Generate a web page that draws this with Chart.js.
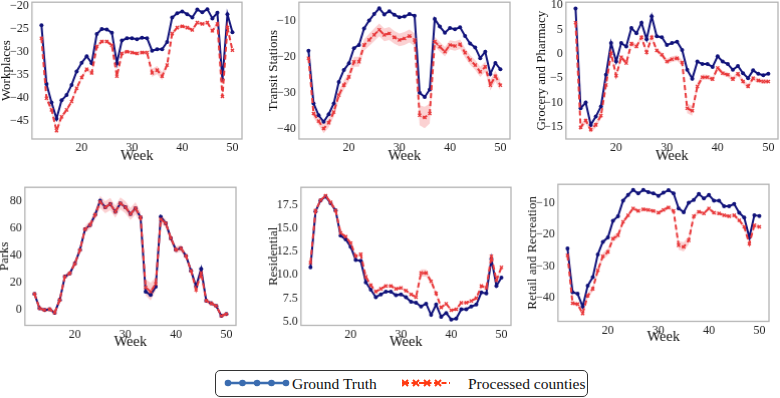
<!DOCTYPE html>
<html>
<head>
<meta charset="utf-8">
<script src="https://cdn.jsdelivr.net/npm/chart.js@4.4.0/dist/chart.umd.min.js"></script>
<style>
html, body { margin:0; padding:0; background:#fff; width:780px; height:398px; overflow:hidden; position:relative; font-family:"Liberation Serif", "Times New Roman", serif; }
canvas.panel { position:absolute; }
#legend { position:absolute; left:215px; top:370px; width:373px; height:27px; border:1.2px solid #333; border-radius:5px; box-sizing:border-box; }
#legend svg { position:absolute; top:0; }
#legend span { position:absolute; top:4px; font-family:"Liberation Serif", "Times New Roman", serif; font-size:15.5px; color:#111; white-space:nowrap; line-height:17px; }
</style>
</head>
<body>
<canvas class="panel" id="p1"></canvas>
<canvas class="panel" id="p2"></canvas>
<canvas class="panel" id="p3"></canvas>
<canvas class="panel" id="p4"></canvas>
<canvas class="panel" id="p5"></canvas>
<canvas class="panel" id="p6"></canvas>
<div id="legend">
  <svg width="66" height="24" style="left:8px">
    <line x1="4" y1="12" x2="62" y2="12" stroke="#3a6cb0" stroke-width="2.5"/>
    <circle cx="4" cy="12" r="3.3" fill="#3a6cb0"/><circle cx="18.5" cy="12" r="3.3" fill="#3a6cb0"/>
    <circle cx="33" cy="12" r="3.3" fill="#3a6cb0"/><circle cx="47.5" cy="12" r="3.3" fill="#3a6cb0"/>
    <circle cx="62" cy="12" r="3.3" fill="#3a6cb0"/>
  </svg>
  <span style="left:76px">Ground Truth</span>
  <svg width="50" height="24" style="left:186px">
    <line x1="2" y1="12" x2="48" y2="12" stroke="#ff3a12" stroke-width="2" stroke-dasharray="5,2.5"/>
    <g stroke="#ff3a12" stroke-width="2">
      <path d="M0 9 L6 15 M6 9 L0 15 M0 12 L6 12"/><path d="M11 9 L17 15 M17 9 L11 15"/>
      <path d="M22 9 L28 15 M28 9 L22 15 M22 12 L28 12"/><path d="M33 9 L39 15 M39 9 L33 15"/>
    </g>
  </svg>
  <span style="left:252px">Processed counties</span>
</div>
<script>
var weeks = [12,13,14,15,16,17,18,19,20,21,22,23,24,25,26,27,28,29,30,31,32,33,34,35,36,37,38,39,40,41,42,43,44,45,46,47,48,49,50];
var xTicks = [20,30,40,50];

// Workplaces
var workGT = [-24.3,-37,-41,-44.5,-40.5,-39.4,-37.2,-34.3,-32.4,-31,-32.5,-26.2,-25.1,-25.2,-25.9,-32.5,-27.6,-27.1,-27.1,-27.3,-27,-27.1,-29.8,-29.5,-29.5,-27.9,-22.6,-21.7,-21.3,-21.9,-22.6,-20.9,-21.5,-20.8,-22.8,-21.6,-36.1,-21.9,-25.8];
var workPR = [-27.1,-40.1,-42.6,-47.1,-44.1,-42.6,-40.8,-37.9,-35.6,-33.8,-34.6,-28.9,-27.8,-27.8,-28.6,-35.3,-30.4,-30,-30.2,-30.4,-30.2,-30.2,-34.6,-34,-35.3,-32.9,-26.1,-24.8,-24.5,-24.8,-25.3,-23.7,-24,-23.7,-25.5,-24,-39.7,-24.8,-29.7];
var workBand = [0.5,0.5,0.5,0.7,0.5,0.4,0.4,0.4,0.4,0.4,0.4,0.4,0.4,0.4,0.4,0.5,0.4,0.4,0.4,0.4,0.4,0.4,0.9,0.9,0.9,0.5,0.4,0.4,0.4,0.4,0.4,0.4,0.4,0.4,0.4,0.4,0.6,0.4,0.5];
var workTicks = [-45,-40,-35,-30,-25,-20];

// Transit Stations
var transGT = [-18.2,-32.9,-36.2,-38,-35.9,-32.9,-26.9,-23.6,-21.7,-17.5,-16.6,-12,-9.8,-8,-6.4,-8.1,-7.2,-8.2,-8.9,-8.7,-8,-8.5,-29.9,-31.1,-29,-9.4,-11.5,-13.2,-11.9,-12.2,-11.7,-14.1,-16.2,-17.3,-20.3,-18.5,-24.7,-21.6,-23.4];
var transPR = [-20.3,-35.7,-37.8,-39.9,-38.3,-35.3,-30.6,-27.8,-25.5,-21.3,-21.3,-16.6,-15.2,-13.8,-12.4,-13.8,-13.4,-14.5,-15.2,-14.8,-14.1,-15.2,-36.2,-36.8,-35.7,-15.7,-17.1,-18.5,-16.6,-16.9,-16.4,-18.8,-20.8,-22.2,-24.1,-22.7,-27.8,-25.3,-27.8];
var transBand = [1.2,1.2,1.2,1.3,1.3,1.3,1.3,1.3,1.3,1.4,1.4,1.6,1.7,1.8,1.8,1.8,1.8,1.8,1.8,1.8,1.8,1.8,2.8,3,2.8,1.3,1.3,1.3,1.3,1.3,1.3,1.3,1.3,1.4,1.4,1.4,1.5,1.5,1.5];
var transTicks = [-40,-30,-20,-10];

// Grocery and Pharmacy
var grocGT = [9.3,-11.2,-10,-14.6,-12.9,-10.8,-4.3,2.2,-1.6,2.2,1.5,5.3,4.2,6.4,3,7.7,3.6,3.4,1.8,2.2,2.5,0.8,-3.3,-5.1,-1.6,-2.1,-2.1,-2.7,-0.5,-1.6,-2.1,-3.3,-2.5,-4,-5,-3.4,-4.1,-4.4,-4.1];
var grocPR = [6.4,-15.1,-13.7,-15.6,-14.6,-12.7,-6.4,0.1,-4.5,-0.7,-1.9,2.1,1.5,3.4,0.3,3.4,0.7,-0.2,-1.6,-1.1,-0.9,-1.8,-11.2,-11.7,-6.7,-4.8,-4.8,-5.2,-2.9,-4,-4.3,-5.2,-4.1,-5.7,-6.7,-5,-5.5,-5.7,-5.7];
var grocBand = [0.6,0.6,0.6,0.6,0.6,0.6,0.6,0.5,0.5,0.5,0.5,0.5,0.5,0.5,0.5,0.5,0.5,0.5,0.6,0.6,0.6,0.6,1,1,0.8,0.6,0.5,0.5,0.5,0.5,0.5,0.5,0.5,0.5,0.5,0.5,0.5,0.5,0.5];
var grocTicks = [-15,-10,-5,0,5,10];

// Parks
var parksGT = [11.4,0.7,-0.5,0,-2.5,7,24.2,26.7,34,44,59.3,62.5,70,80.5,75.6,78,72.3,78.5,75.6,70.6,74.8,68.1,13.1,10.6,16.8,68.6,63.7,52.6,44,45.2,39.5,28.6,17,30,6.4,4.4,2.5,-4.9,-3.5];
var parksPR = [11.4,0.7,-0.5,0,-2.5,7,24.2,26.7,34,44,59.3,62.5,70,79.5,75.6,78,72.3,78.5,75.6,70.6,74.8,68.1,16.3,13.1,18.8,66.7,63.7,52.6,44,45.2,39.5,28.6,14.5,27,6.4,4.4,2.5,-4.9,-3.5];
var parksBand = [1.5,1.5,1.5,1.5,1.5,1.5,1.8,1.8,2,2,2.5,3,3.5,4.5,4.5,4.5,4.5,4.5,4.5,4.5,4.5,4,6,6.5,5,3,3,2.5,2.5,2.5,2,2,2,2,1.5,1.5,1.5,1.5,1.5];
var parksTicks = [0,20,40,60,80];

// Residential
var resGT = [10.8,16.8,18,18.4,17.7,16.9,14.2,13.8,13,11.6,11.5,9.2,8.4,7.6,7.9,8.2,8.2,7.8,7.9,7.6,7.1,7,6.6,6.9,5.7,6.8,5.5,5.9,5.2,5.3,6.3,6.3,6.6,6.8,8.1,8,11.7,8.8,9.7];
var resPR = [11.3,16.9,18,18.5,17.8,16.9,14.5,14.1,13.4,12,12.2,9.8,8.9,8.2,8.5,8.8,8.8,8.5,8.6,8.3,7.9,7.6,10.2,10.2,9.3,8,6.5,6.9,6.2,6.3,7,7,7.2,7.5,8.8,8.6,12,9.4,10.8];
var resBand = [0.15,0.15,0.15,0.15,0.15,0.15,0.15,0.15,0.15,0.15,0.15,0.15,0.15,0.15,0.15,0.15,0.15,0.15,0.15,0.15,0.15,0.15,0.4,0.4,0.3,0.15,0.15,0.15,0.15,0.15,0.15,0.15,0.15,0.15,0.15,0.15,0.2,0.15,0.15];
var resTicks = [5,7.5,10,12.5,15,17.5];

// Retail and Recreation
var retGT = [-24.4,-38.4,-38.9,-43,-36.3,-33.6,-26.3,-22.3,-20.9,-15.6,-14.1,-9.1,-7.3,-5.7,-6.8,-5.7,-6.4,-6.8,-7.6,-6.6,-5.8,-6.8,-11.6,-12.8,-9.8,-8.9,-7,-8.4,-7.3,-9.1,-9.1,-10.9,-10.9,-10.2,-13,-14.5,-20.9,-13.8,-14];
var retPR = [-26.6,-41.9,-42.2,-45.2,-39.5,-37.3,-31.4,-26.9,-25.5,-21.3,-20.2,-15.9,-13.8,-11.6,-12.4,-11.9,-12.1,-12.4,-13,-12.1,-11.3,-12.4,-23.4,-23.9,-21.8,-14.1,-12.7,-13.2,-11.6,-13,-13.2,-13.8,-14.1,-13.8,-15.4,-17.5,-22.9,-17,-17.5];
var retBand = [0.6,0.7,0.7,0.8,0.8,0.8,1,1.1,1.1,1,0.9,0.7,0.6,0.6,0.6,0.6,0.6,0.6,0.6,0.6,0.6,0.6,1.4,1.5,1.3,0.7,0.6,0.6,0.6,0.6,0.6,0.6,0.6,0.6,0.6,0.7,0.8,0.7,0.7];
var retTicks = [-40,-30,-20,-10];

// layout of each panel: plot area [left, top, right, bottom], y-title centre x, x-axis height
var panels = [
  {id:'p1', label:'Workplaces', gt:workGT, pr:workPR, band:workBand, ticks:workTicks, dec:0, ymin:-48.9, ymax:-19.3, plot:[32,2,242,139], titleX:7, xh:26},
  {id:'p2', label:'Transit Stations', gt:transGT, pr:transPR, band:transBand, ticks:transTicks, dec:0, ymin:-42.8, ymax:-4.7, plot:[299,2,510,139], titleX:274, xh:26},
  {id:'p3', label:'Grocery and Pharmacy', gt:grocGT, pr:grocPR, band:grocBand, ticks:grocTicks, dec:0, ymin:-17.5, ymax:10.6, plot:[566,2,778,139], titleX:542, xh:26},
  {id:'p4', label:'Parks', gt:parksGT, pr:parksPR, band:parksBand, ticks:parksTicks, dec:0, ymin:-11.9, ymax:90.4, plot:[25,187,236,325], titleX:5, xh:25.5},
  {id:'p5', label:'Residential', gt:resGT, pr:resPR, band:resBand, ticks:resTicks, dec:1, ymin:4.57, ymax:19.4, plot:[301,187,511,325], titleX:274, xh:25.5},
  {id:'p6', label:'Retail and Recreation', gt:retGT, pr:retPR, band:retBand, ticks:retTicks, dec:0, ymin:-47.7, ymax:-3.9, plot:[558,184,769,321], titleX:533, xh:24.5}
];

var serif = '"Liberation Serif", "Times New Roman", serif';

var frame = {
  id: 'frame',
  beforeDatasetsDraw: function(chart) {
    var a = chart.chartArea, ctx = chart.ctx;
    ctx.save();
    ctx.strokeStyle = '#b4b4b4';
    ctx.lineWidth = 1.3;
    ctx.strokeRect(a.left, a.top, a.right - a.left, a.bottom - a.top);
    ctx.restore();
  }
};

function pts(arr) {
  return weeks.map(function(w, i) { return {x: w, y: arr[i]}; });
}

function fmt(v, dec) {
  var s = Math.abs(v).toFixed(dec);
  return v < 0 ? '\u2212' + s : s;
}

panels.forEach(function(p) {
  var half = 7.8;
  var left = p.titleX - half;
  var top = p.plot[1] - 10;
  var w = p.plot[2] + 10 - left;
  var h = p.plot[3] + p.xh - top;
  var cv = document.getElementById(p.id);
  cv.width = w; cv.height = h;
  cv.style.left = left + 'px'; cv.style.top = top + 'px';
  cv.style.width = w + 'px'; cv.style.height = h + 'px';
  var yw = p.plot[0] - left;

  var hi = p.pr.map(function(v, i) { return v + p.band[i]; });
  var lo = p.pr.map(function(v, i) { return v - p.band[i]; });

  new Chart(cv, {
    type: 'line',
    data: {
      datasets: [
        {data: pts(hi), borderWidth: 0, pointRadius: 0, backgroundColor: 'rgba(240,90,95,0.28)', fill: false, order: 3},
        {data: pts(lo), borderWidth: 0, pointRadius: 0, backgroundColor: 'rgba(240,90,95,0.28)', fill: '-1', order: 3},
        {label: 'Ground Truth', data: pts(p.gt), borderColor: '#10127a', backgroundColor: '#10127a',
         borderWidth: 2, pointRadius: 2, pointBorderWidth: 0, pointStyle: 'circle', order: 2},
        {label: 'Processed counties', data: pts(p.pr), borderColor: '#e8383a', backgroundColor: '#e8383a',
         borderWidth: 2, borderDash: [5, 3], pointRadius: 2.2, pointBorderWidth: 1.3, pointStyle: 'crossRot', order: 1}
      ]
    },
    options: {
      responsive: false,
      devicePixelRatio: 1,
      animation: false,
      layout: {autoPadding: false, padding: {left: 0, top: 10, right: 10, bottom: 0}},
      plugins: {legend: {display: false}, tooltip: {enabled: false}},
      elements: {line: {tension: 0}},
      scales: {
        x: {
          type: 'linear', min: 10.1, max: 51.9,
          grid: {display: false, drawTicks: false},
          border: {display: false},
          afterBuildTicks: function(s) { s.ticks = xTicks.map(function(v) { return {value: v}; }); },
          afterFit: function(s) { s.height = p.xh; },
          ticks: {padding: 2, color: '#222', font: {family: serif, size: 12, weight: 'normal'}, maxRotation: 0},
          title: {display: true, text: 'Week', color: '#111', padding: 0, font: {family: serif, size: 14.5, weight: 'normal'}}
        },
        y: {
          min: p.ymin, max: p.ymax,
          grid: {display: false, drawTicks: false},
          border: {display: false},
          afterBuildTicks: function(s) { s.ticks = p.ticks.map(function(v) { return {value: v}; }); },
          afterFit: function(s) { s.width = yw; },
          ticks: {padding: 3, color: '#222', font: {family: serif, size: 12, weight: 'normal'},
                  callback: function(v) { return fmt(v, p.dec); }},
          title: {display: true, text: p.label, color: '#111', padding: 0, font: {family: serif, size: 13, weight: 'normal'}}
        }
      }
    },
    plugins: [frame]
  });
});
</script>
</body>
</html>
